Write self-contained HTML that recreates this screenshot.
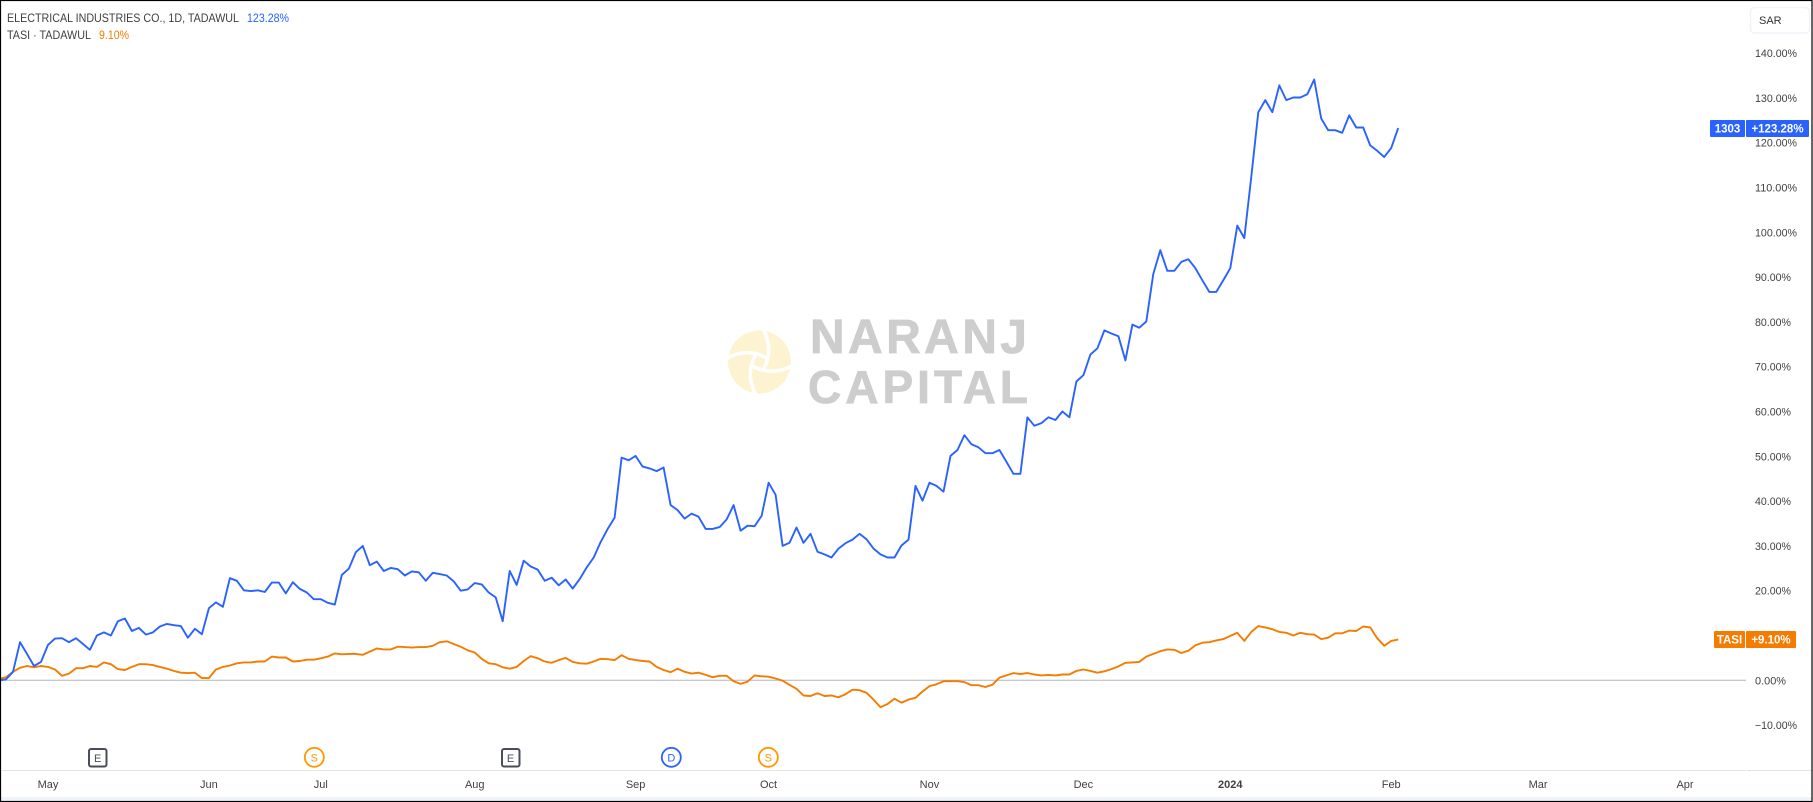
<!DOCTYPE html>
<html lang="en">
<head>
<meta charset="utf-8">
<title>Electrical Industries Co. vs TASI</title>
<style>
html,body{margin:0;padding:0;background:#fff;}
#chart-root{display:block;width:1813px;height:802px;}
text{font-family:"Liberation Sans",sans-serif;}
</style>
</head>
<body>
<svg id="chart-root" xmlns="http://www.w3.org/2000/svg" width="1813" height="802" viewBox="0 0 1813 802">
  <rect x="0" y="0" width="1813" height="802" fill="#ffffff"/>
  <rect x="1" y="797" width="1811" height="4" fill="#f0f3fa"/>
  <g id="watermark">
    <g transform="translate(759.5 362)">
      <circle cx="0" cy="0" r="31.5" fill="#fdf3d0"/>
      <g fill="none" stroke="#ffffff" stroke-width="3.6" stroke-linecap="round">
        <path d="M3,-34 Q15,-13 4,7"/>
        <path transform="rotate(90)" d="M3,-34 Q15,-13 4,7"/>
        <path transform="rotate(180)" d="M3,-34 Q15,-13 4,7"/>
        <path transform="rotate(270)" d="M3,-34 Q15,-13 4,7"/>
      </g>
    </g>
    <text x="810" y="353" font-size="48" font-weight="700" fill="#cdcdcd" stroke="#cdcdcd" stroke-width="0.8" textLength="217" lengthAdjust="spacing">NARANJ</text>
    <text x="808" y="403" font-size="46" font-weight="700" fill="#cdcdcd" stroke="#cdcdcd" stroke-width="0.8" textLength="220" lengthAdjust="spacing">CAPITAL</text>
  </g>
  <g id="y-axis"></g>
  <g id="x-axis"></g>
  <g id="series"></g>
  <g id="tags"></g>
  <g id="legend"></g>
  <g>
    <g>
      <rect x="89" y="749" width="17.5" height="17.5" rx="2" fill="#fff" stroke="#4a4e5a" stroke-width="2"/>
      <text x="97.7" y="762" font-size="11" text-anchor="middle" fill="#4a4e5a">E</text>
    </g>
    <g>
      <circle cx="314.3" cy="757.3" r="9.5" fill="#fff" stroke="#ff9800" stroke-width="1.8"/>
      <text x="314.3" y="761.3" font-size="11" text-anchor="middle" fill="#ff9800">S</text>
    </g>
    <g>
      <rect x="502" y="749" width="17.5" height="17.5" rx="2" fill="#fff" stroke="#4a4e5a" stroke-width="2"/>
      <text x="510.5" y="762" font-size="11" text-anchor="middle" fill="#4a4e5a">E</text>
    </g>
    <g>
      <circle cx="671.3" cy="757.3" r="9.5" fill="#fff" stroke="#2962ff" stroke-width="1.8"/>
      <text x="671.3" y="761.3" font-size="11" text-anchor="middle" fill="#2962ff">D</text>
    </g>
    <g>
      <circle cx="768.3" cy="757.3" r="9.5" fill="#fff" stroke="#ff9800" stroke-width="1.8"/>
      <text x="768.3" y="761.3" font-size="11" text-anchor="middle" fill="#ff9800">S</text>
    </g>
  </g>
  <g>
    <rect x="1750.5" y="7.5" width="59" height="25.5" rx="4" fill="#fff" stroke="#f0f3fa" stroke-width="1.6"/>
    <text x="1759" y="24" font-size="11" fill="#333">SAR</text>
  </g>
  <rect x="0.5" y="0.5" width="1811.5" height="801" fill="none" stroke="#000" stroke-width="1.2"/>
</svg>
<script>
const blueSeriesName = "ELECTRICAL INDUSTRIES CO., 1D, TADAWUL";
const orangeSeriesName = "TASI \u00B7 TADAWUL";
const blueTagName = "1303";
const orangeTagName = "TASI";
const blueValues = [
0,0.2,1.9,8.5,5.9,3.2,4.1,7.9,9.3,9.4,
8.5,9.4,8.1,6.8,10.0,10.7,10.0,13.2,13.8,11.0,
11.7,10.2,10.7,12.0,12.6,12.3,12.1,9.5,11.5,10.3,
16.1,17.4,16.4,22.8,22.2,20.1,19.9,20.1,19.7,21.8,
21.8,19.4,21.9,20.4,19.6,18.1,18.1,17.3,16.9,23.5,
24.9,28.6,30.0,25.7,26.5,24.4,25.1,24.8,23.4,24.3,
24.1,22.2,24.0,23.7,23.4,22.1,20.0,20.3,21.7,21.4,
19.6,18.5,13.2,24.4,21.3,26.7,25.4,24.7,22.2,22.9,
21.2,22.5,20.5,22.6,25.2,27.4,30.9,33.8,36.3,49.7,
49.1,50.1,47.7,47.3,46.7,47.5,39.1,38.0,36.1,37.2,
36.5,33.8,33.8,34.2,35.9,39.1,33.4,34.5,34.4,36.7,
44.1,41.4,30.0,30.7,34.1,30.7,32.7,28.7,28.1,27.4,
29.4,30.6,31.4,32.7,31.5,29.4,28.1,27.4,27.4,30.1,
31.4,43.4,40.1,44.1,43.4,42.1,50.1,51.4,54.7,52.7,
52.0,50.7,50.7,51.4,48.8,46.1,46.1,58.7,56.8,57.4,
58.7,58.1,60.0,58.7,66.7,68.1,72.7,74.1,78.1,77.4,
76.8,71.4,79.4,78.7,80.1,90.7,96.0,91.4,91.4,93.4,
94.0,92.0,89.3,86.7,86.7,89.3,92.0,101.5,98.7,112.4,
126.8,129.5,126.8,132.8,129.5,130.1,130.1,130.8,134.1,125.4,
122.8,122.8,122.2,126.1,123.4,123.4,119.4,118.2,116.8,118.8,
123.28];
const orangeValues = [
0.3,0.7,1.9,2.8,3.2,2.9,3.2,3.0,2.4,1.0,
1.5,2.7,2.7,3.2,3.0,4.0,3.6,2.5,2.3,3.0,
3.6,3.6,3.4,3.0,2.6,2.1,1.7,1.6,1.7,0.5,
0.5,2.4,3.0,3.3,3.8,4.0,4.0,4.2,4.2,5.3,
5.1,5.1,4.2,4.3,4.6,4.6,4.9,5.3,6.0,5.8,
5.9,5.9,5.7,6.4,7.1,6.9,6.9,7.5,7.4,7.3,
7.4,7.4,7.7,8.5,8.7,8.1,7.5,6.7,6.2,4.8,
3.8,3.6,2.9,2.6,3.0,4.3,5.4,4.9,4.2,3.9,
4.5,5.0,4.1,3.8,3.7,4.2,4.8,4.7,4.5,5.6,
4.8,4.5,4.3,4.2,3.0,2.3,1.8,2.6,1.9,1.5,
1.7,1.2,0.7,1.0,1.0,-0.2,-0.8,-0.3,1.1,0.9,
0.8,0.4,-0.1,-1.0,-1.9,-3.4,-3.5,-2.9,-3.5,-3.4,
-3.8,-3.1,-2.1,-2.2,-2.8,-4.3,-6.0,-5.3,-4.1,-5.0,
-4.3,-3.9,-2.5,-1.3,-0.9,-0.2,-0.2,-0.2,-0.4,-1.1,
-1.1,-1.5,-1.0,0.6,1.1,1.6,1.4,1.6,1.3,1.1,
1.2,1.1,1.3,1.3,2.1,2.4,2.1,1.7,2.0,2.5,
3.1,3.9,4.0,4.1,5.3,5.9,6.5,6.9,6.8,6.1,
6.6,7.8,8.4,8.5,8.9,9.2,9.9,10.6,8.8,10.8,
12.1,11.8,11.4,10.8,10.6,10.0,10.6,10.3,10.2,9.2,
9.5,10.5,10.5,11.1,11.0,12.0,11.8,9.4,7.7,8.8,
9.10];
const yTickValues = [140,130,120,110,100,90,80,70,60,50,40,30,20,10,0,-10];
const monthLabels = ["May","Jun","Jul","Aug","Sep","Oct","Nov","Dec","2024","Feb","Mar","Apr"];
const monthBarIndex = [7,30,46,68,91,110,133,155,176,199,220,241];

const SVG_NS = "http://www.w3.org/2000/svg";
function xScale(i){ return -1 + i * 6.996; }
function yScale(v){ return 680.3 - v * 4.48; }
function fmtPct(v){ return (v < 0 ? "\u2212" : "") + Math.abs(v).toFixed(2) + "%"; }
function make(tag, parent, attrs){
  const el = document.createElementNS(SVG_NS, tag);
  for (const k in attrs) el.setAttribute(k, attrs[k]);
  parent.appendChild(el);
  return el;
}

const yAxis = document.getElementById("y-axis");
const xAxis = document.getElementById("x-axis");
const seriesLayer = document.getElementById("series");
const tagsLayer = document.getElementById("tags");
const legendLayer = document.getElementById("legend");

yTickValues.forEach(function(v){
  const t = make("text", yAxis, {x:1755, y:yScale(v)+4, "font-size":11, fill:"#3f3f3f", textLength:(v===0?31:(Math.abs(v)>=100?42:(v<0?42:36))), lengthAdjust:"spacingAndGlyphs"});
  
  
  t.textContent = fmtPct(v);
});

const zeroLine = make("line", yAxis, {x1:1, x2:1746, y1:yScale(0), y2:yScale(0), stroke:"#b2b5be", "stroke-width":1});



const axisLineLeft = make("line", xAxis, {x1:1, x2:1746, y1:770.5, y2:770.5, stroke:"#e0e3eb", "stroke-width":1});


const axisLineRight = make("line", xAxis, {x1:1747, x2:1812, y1:770.5, y2:770.5, stroke:"#e0e3eb", "stroke-width":1});



monthLabels.forEach(function(label, k){
  const t = make("text", xAxis, {x:xScale(monthBarIndex[k]), y:788, "font-size":11, "text-anchor":"middle", fill:"#3f3f3f", "font-weight":label==="2024"?"700":"400"});
  
  
  t.textContent = label;
});

function linePoints(values){
  return values.map(function(v,i){ return xScale(i).toFixed(1)+","+yScale(v).toFixed(1); }).join(" ");
}
const orangeLine = make("polyline", seriesLayer, {points:linePoints(orangeValues), fill:"none", stroke:"#f57c00", "stroke-width":1.9, "stroke-linejoin":"round"});


const blueLine = make("polyline", seriesLayer, {points:linePoints(blueValues), fill:"none", stroke:"#2962ff", "stroke-width":1.9, "stroke-linejoin":"round"});



const blueLast = blueValues[blueValues.length-1];
const orangeLast = orangeValues[orangeValues.length-1];

const blueNameBox = make("rect", tagsLayer, {x:1710, y:yScale(blueLast)-8, width:35, height:17, rx:1, fill:"#2962ff"});


const blueValueBox = make("rect", tagsLayer, {x:1746, y:yScale(blueLast)-8, width:63, height:17, rx:1, fill:"#2962ff"});


const blueNameText = make("text", tagsLayer, {x:1727.5, y:yScale(blueLast)+4.5, "font-size":11.5, "font-weight":700, "text-anchor":"middle", fill:"#fff"});


blueNameText.textContent = blueTagName;
const blueValueText = make("text", tagsLayer, {x:1777.5, y:yScale(blueLast)+4.5, "font-size":11.5, "font-weight":700, "text-anchor":"middle", fill:"#fff"});


blueValueText.textContent = "+" + blueLast.toFixed(2) + "%";

const orangeNameBox = make("rect", tagsLayer, {x:1714, y:yScale(orangeLast)-8.5, width:31, height:17, rx:1, fill:"#f57c00"});


const orangeValueBox = make("rect", tagsLayer, {x:1746, y:yScale(orangeLast)-8.5, width:50, height:17, rx:1, fill:"#f57c00"});


const orangeNameText = make("text", tagsLayer, {x:1729.5, y:yScale(orangeLast)+4, "font-size":11.5, "font-weight":700, "text-anchor":"middle", fill:"#fff"});


orangeNameText.textContent = orangeTagName;
const orangeValueText = make("text", tagsLayer, {x:1771, y:yScale(orangeLast)+4, "font-size":11.5, "font-weight":700, "text-anchor":"middle", fill:"#fff"});


orangeValueText.textContent = "+" + orangeLast.toFixed(2) + "%";

const legendBlueName = make("text", legendLayer, {x:7, y:22, "font-size":11.5, fill:"#3f3f3f", textLength:232, lengthAdjust:"spacingAndGlyphs"});


legendBlueName.textContent = blueSeriesName;
const legendBlueValue = make("text", legendLayer, {x:247, y:22, "font-size":11.5, fill:"#2962ff", textLength:42, lengthAdjust:"spacingAndGlyphs"});


legendBlueValue.textContent = blueLast.toFixed(2) + "%";
const legendOrangeName = make("text", legendLayer, {x:7, y:39, "font-size":11.5, fill:"#3f3f3f", textLength:84, lengthAdjust:"spacingAndGlyphs"});


legendOrangeName.textContent = orangeSeriesName;
const legendOrangeValue = make("text", legendLayer, {x:99, y:39, "font-size":11.5, fill:"#f57c00", textLength:30, lengthAdjust:"spacingAndGlyphs"});


legendOrangeValue.textContent = orangeLast.toFixed(2) + "%";
</script>
</body>
</html>
